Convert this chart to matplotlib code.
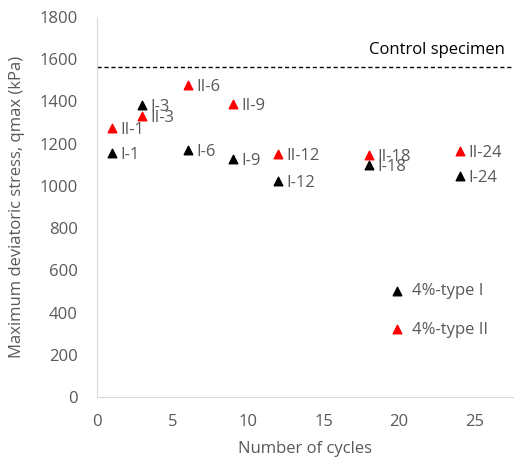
import matplotlib.pyplot as plt

plt.rcParams['font.family'] = ['Open Sans', 'DejaVu Sans']

cycles = [1, 3, 6, 9, 12, 18, 24]
q_type1 = [1155, 1383, 1170, 1127, 1023, 1099, 1047]
q_type2 = [1274, 1331, 1478, 1388, 1151, 1146, 1165]
labels1 = ['I-1', 'I-3', 'I-6', 'I-9', 'I-12', 'I-18', 'I-24']
labels2 = ['II-1', 'II-3', 'II-6', 'II-9', 'II-12', 'II-18', 'II-24']
control = 1563

grey = '#595959'
fs = 12

fig = plt.figure(figsize=(5.14, 4.61), dpi=100)
ax = fig.add_axes([97 / 514, 64 / 461, 417 / 514, 380 / 461])

h1 = ax.scatter(cycles, q_type1, marker='^', s=38, color='black', zorder=3)
h2 = ax.scatter(cycles, q_type2, marker='^', s=38, color='#ff0000', zorder=3)

for x, y, t in zip(cycles, q_type1, labels1):
    ax.annotate(t, (x, y), xytext=(6, -1.5), textcoords='offset points',
                va='center', ha='left', fontsize=fs, color=grey)
for x, y, t in zip(cycles, q_type2, labels2):
    ax.annotate(t, (x, y), xytext=(6, -1.5), textcoords='offset points',
                va='center', ha='left', fontsize=fs, color=grey)

ax.axhline(control, color='black', linestyle=(0, (3, 2)), linewidth=1)
ax.text(27.0, control + 45, 'Control specimen', ha='right', va='bottom',
        fontsize=fs, color='black')

ax.set_xlim(0, 27.6)
ax.set_ylim(0, 1800)
ax.set_xticks(range(0, 30, 5))
ax.set_yticks(range(0, 2000, 200))

for s in ['top', 'right']:
    ax.spines[s].set_visible(False)
for s in ['left', 'bottom']:
    ax.spines[s].set_color('#d9d9d9')
ax.tick_params(length=0, labelsize=fs, colors=grey)
ax.tick_params(axis='x', pad=12)
ax.tick_params(axis='y', pad=14)

ax.set_xlabel('Number of cycles', fontsize=fs, color=grey, labelpad=8)
ax.set_ylabel('Maximum deviatoric stress, qmax (kPa)', fontsize=fs, color=grey, labelpad=10)

leg = ax.legend([h1, h2], ['4%-type I', '4%-type II'], loc='center left',
                bbox_to_anchor=(0.704, 0.228), frameon=False, fontsize=fs,
                labelspacing=1.35, handlelength=0.8, handletextpad=0.5,
                scatterpoints=1, borderpad=0, borderaxespad=0)
for t in leg.get_texts():
    t.set_color(grey)

fig.savefig('out.png', dpi=100)
